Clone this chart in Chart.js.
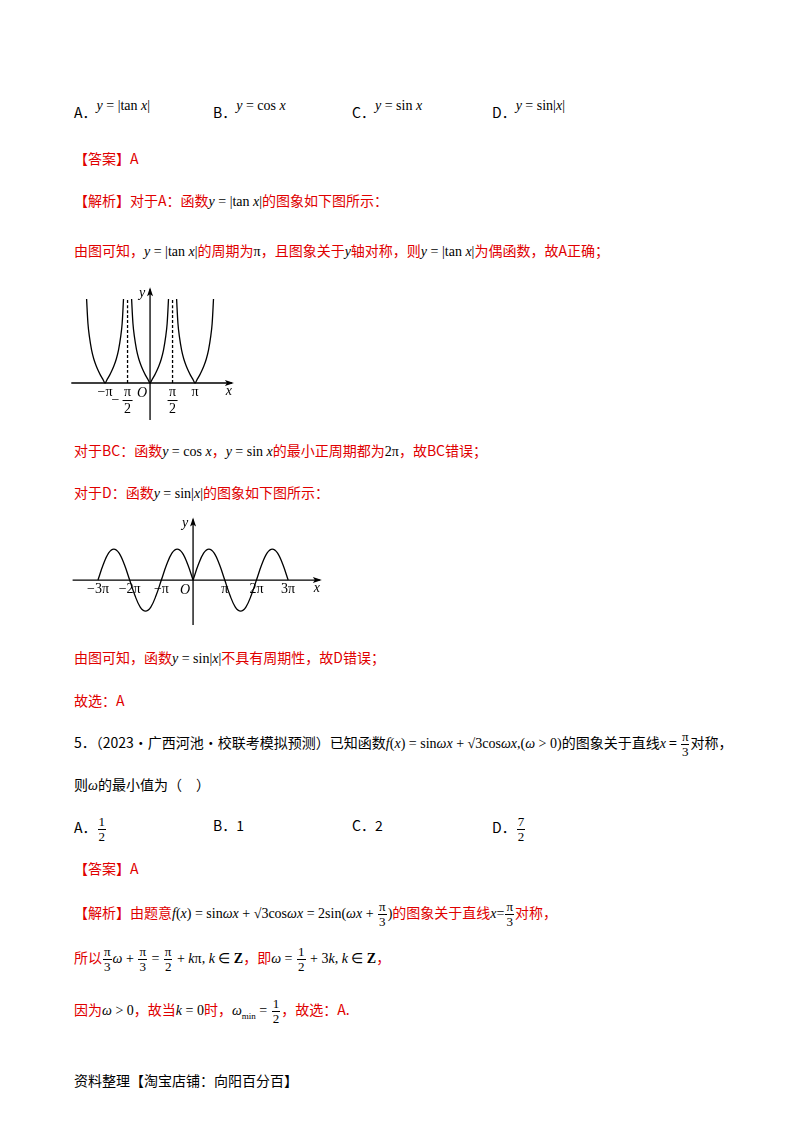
<!DOCTYPE html>
<html><head><meta charset="utf-8">
<script src="https://cdn.jsdelivr.net/npm/chart.js@4/dist/chart.umd.min.js"></script>
<style>
body{margin:0;width:800px;height:1132px;background:#fff;position:relative;font-family:"Noto Sans CJK SC","Noto Sans",sans-serif;font-size:14px;color:#000}
.l{position:absolute;white-space:nowrap;line-height:20px}
.r{color:#e00000}
.m{font-family:"Liberation Serif",serif;font-size:14px;color:#000}
.i{font-style:italic}
.fr{display:inline-flex;flex-direction:column;align-items:center;vertical-align:middle;font-family:"Liberation Serif",serif;font-size:13px;line-height:14px;color:#000;margin:0 1px}
.fr span:first-child{border-bottom:1px solid #000;padding:0 1px}
canvas{position:absolute}
</style></head><body>
<div class="l" style="left:74px;top:102px">A．<span class="m" style="position:relative;top:-8px"><i>y</i> = |tan <i>x</i>|</span></div>
<div class="l" style="left:213px;top:102px">B．<span class="m" style="position:relative;top:-8px"><i>y</i> = cos <i>x</i></span></div>
<div class="l" style="left:352px;top:102px">C．<span class="m" style="position:relative;top:-8px"><i>y</i> = sin <i>x</i></span></div>
<div class="l" style="left:492px;top:102px">D．<span class="m" style="position:relative;top:-8px"><i>y</i> = sin|<i>x</i>|</span></div>
<div class="l r" style="left:74px;top:148px">【答案】A</div>
<div class="l r" style="left:74px;top:190px">【解析】对于A：函数<span class="m"><i>y</i> = |tan <i>x</i>|</span>的图象如下图所示：</div>
<div class="l r" style="left:74px;top:240px">由图可知，<span class="m"><i>y</i> = |tan <i>x</i>|</span>的周期为<span class="m">π</span>，且图象关于<span class="m i">y</span>轴对称，则<span class="m"><i>y</i> = |tan <i>x</i>|</span>为偶函数，故A正确；</div>
<canvas id="c1" width="180" height="140" style="left:65px;top:280px"></canvas>
<div class="l r" style="left:74px;top:440px">对于BC：函数<span class="m"><i>y</i> = cos <i>x</i></span>，<span class="m"><i>y</i> = sin <i>x</i></span>的最小正周期都为<span class="m">2π</span>，故BC错误；</div>
<div class="l r" style="left:74px;top:482px">对于D：函数<span class="m"><i>y</i> = sin|<i>x</i>|</span>的图象如下图所示：</div>
<canvas id="c2" width="265" height="120" style="left:65px;top:510px"></canvas>
<div class="l r" style="left:74px;top:647px">由图可知，函数<span class="m"><i>y</i> = sin|<i>x</i>|</span>不具有周期性，故D错误；</div>
<div class="l r" style="left:74px;top:690px">故选：A</div>
<div class="l" style="left:74px;top:730px">5．（2023·广西河池·校联考模拟预测）已知函数<span class="m"><i>f</i>(<i>x</i>) = sin<i>ωx</i> + √3cos<i>ωx</i>,(<i>ω</i> &gt; 0)</span>的图象关于直线<span class="m i">x</span> = <span class="fr"><span>π</span><span>3</span></span>对称，</div>
<div class="l" style="left:74px;top:774px">则<span class="m i">ω</span>的最小值为（　）</div>
<div class="l" style="left:74px;top:815px">A．<span class="fr"><span>1</span><span>2</span></span></div>
<div class="l" style="left:213px;top:815px">B．1</div>
<div class="l" style="left:352px;top:815px">C．2</div>
<div class="l" style="left:492px;top:815px">D．<span class="fr"><span>7</span><span>2</span></span></div>
<div class="l r" style="left:74px;top:858px">【答案】A</div>
<div class="l r" style="left:74px;top:900px">【解析】由题意<span class="m"><i>f</i>(<i>x</i>) = sin<i>ωx</i> + √3cos<i>ωx</i> = 2sin(<i>ωx</i> + </span><span class="fr"><span>π</span><span>3</span></span><span class="m">)</span>的图象关于直线<span class="m i">x</span><span class="m">=</span><span class="fr"><span>π</span><span>3</span></span>对称，</div>
<div class="l r" style="left:74px;top:945px">所以<span class="fr"><span>π</span><span>3</span></span><span class="m"><i>ω</i> + </span><span class="fr"><span>π</span><span>3</span></span><span class="m"> = </span><span class="fr"><span>π</span><span>2</span></span><span class="m"> + <i>k</i>π, <i>k</i> ∈ <b>Z</b></span>，即<span class="m"><i>ω</i> = </span><span class="fr"><span>1</span><span>2</span></span><span class="m"> + 3<i>k</i>, <i>k</i> ∈ <b>Z</b></span>，</div>
<div class="l r" style="left:74px;top:997px">因为<span class="m"><i>ω</i> &gt; 0</span>，故当<span class="m"><i>k</i> = 0</span>时，<span class="m"><i>ω</i><sub style="font-size:9px">min</sub> = </span><span class="fr"><span>1</span><span>2</span></span>，故选：A.</div>
<div class="l" style="left:74px;top:1070px">资料整理【淘宝店铺：向阳百分百】</div>
<script>
// x values in units of pi
const tanLeftX = [-1.41, -1.38, -1.35, -1.3, -1.25, -1.2, -1.15, -1.1, -1.05, -1, -0.95, -0.9, -0.85, -0.8, -0.75, -0.7, -0.65, -0.62, -0.59];
const tanLeftY = [3.5, 2.48, 1.96, 1.38, 1.0, 0.73, 0.51, 0.32, 0.16, 0, 0.16, 0.32, 0.51, 0.73, 1.0, 1.38, 1.96, 2.48, 3.5];
const tanMidX = [-0.41, -0.38, -0.35, -0.3, -0.25, -0.2, -0.15, -0.1, -0.05, 0, 0.05, 0.1, 0.15, 0.2, 0.25, 0.3, 0.35, 0.38, 0.41];
const tanMidY = [3.5, 2.48, 1.96, 1.38, 1.0, 0.73, 0.51, 0.32, 0.16, 0, 0.16, 0.32, 0.51, 0.73, 1.0, 1.38, 1.96, 2.48, 3.5];
const tanRightX = [0.59, 0.62, 0.65, 0.7, 0.75, 0.8, 0.85, 0.9, 0.95, 1, 1.05, 1.1, 1.15, 1.2, 1.25, 1.3, 1.35, 1.38, 1.41];
const tanRightY = [3.5, 2.48, 1.96, 1.38, 1.0, 0.73, 0.51, 0.32, 0.16, 0, 0.16, 0.32, 0.51, 0.73, 1.0, 1.38, 1.96, 2.48, 3.5];
const tanTicks = [[-1, "−π"], [1, "π"]];
const tanFracTicks = [[-0.5, "−"], [0.5, ""]];

const sinLeftX = [-3, -2.833, -2.667, -2.5, -2.333, -2.167, -2, -1.833, -1.667, -1.5, -1.333, -1.167, -1, -0.833, -0.667, -0.5, -0.333, -0.167, 0];
const sinLeftY = [0, 0.5, 0.87, 1, 0.87, 0.5, 0, -0.5, -0.87, -1, -0.87, -0.5, 0, 0.5, 0.87, 1, 0.87, 0.5, 0];
const sinRightX = [0, 0.167, 0.333, 0.5, 0.667, 0.833, 1, 1.167, 1.333, 1.5, 1.667, 1.833, 2, 2.167, 2.333, 2.5, 2.667, 2.833, 3];
const sinRightY = [0, 0.5, 0.87, 1, 0.87, 0.5, 0, -0.5, -0.87, -1, -0.87, -0.5, 0, 0.5, 0.87, 1, 0.87, 0.5, 0];
const sinTicks = [[-3, "−3π"], [-2, "−2π"], [-1, "−π"], [1, "π"], [2, "2π"], [3, "3π"]];

function pts(xs, ys) { return xs.map((x, i) => ({x, y: ys[i]})); }
function line(data, dash) {
  return {data, borderColor: "#000", borderWidth: 1.3, pointRadius: 0, tension: 0.35, borderDash: dash || [], fill: false};
}

function axesPlugin(xFrom, xTo, yFrom, yTo, ticks, fracs) {
  return {
    id: "axes",
    afterDatasetsDraw(chart) {
      const ctx = chart.ctx, xs = chart.scales.x, ys = chart.scales.y;
      const ox = xs.getPixelForValue(0), oy = ys.getPixelForValue(0);
      const x1 = xs.getPixelForValue(xFrom), x2 = xs.getPixelForValue(xTo);
      const y1 = ys.getPixelForValue(yFrom), y2 = ys.getPixelForValue(yTo);
      ctx.save();
      ctx.strokeStyle = "#000"; ctx.fillStyle = "#000"; ctx.lineWidth = 1.3;
      ctx.beginPath(); ctx.moveTo(x1, oy); ctx.lineTo(x2, oy); ctx.moveTo(ox, y1); ctx.lineTo(ox, y2); ctx.stroke();
      ctx.beginPath(); ctx.moveTo(x2 + 2, oy); ctx.lineTo(x2 - 7, oy - 3); ctx.lineTo(x2 - 5, oy); ctx.lineTo(x2 - 7, oy + 3); ctx.fill();
      ctx.beginPath(); ctx.moveTo(ox, y2 - 2); ctx.lineTo(ox - 3, y2 + 7); ctx.lineTo(ox, y2 + 5); ctx.lineTo(ox + 3, y2 + 7); ctx.fill();
      ctx.font = "14px 'Liberation Serif'"; ctx.textAlign = "center"; ctx.textBaseline = "top";
      ticks.forEach(([v, t]) => ctx.fillText(t, xs.getPixelForValue(v), oy + 2));
      (fracs || []).forEach(([v, s]) => {
        const px = xs.getPixelForValue(v);
        ctx.fillText("π", px, oy + 2);
        ctx.fillRect(px - 5, oy + 17, 10, 1);
        ctx.fillText("2", px, oy + 19);
        if (s) ctx.fillText(s, px - 12, oy + 10);
      });
      ctx.font = "italic 14px 'Liberation Serif'";
      ctx.fillText("O", ox - 8, oy + 3);
      ctx.fillText("x", x2 - 3, oy + 1);
      ctx.fillText("y", ox - 8, y2 - 3);
      ctx.restore();
    }
  };
}

const base = (xmin, xmax, ymin, ymax) => ({
  responsive: false, animation: false, clip: false,
  layout: {padding: 0},
  plugins: {legend: {display: false}, tooltip: {enabled: false}},
  scales: {
    x: {type: "linear", min: xmin, max: xmax, display: false},
    y: {type: "linear", min: ymin, max: ymax, display: false}
  }
});

new Chart(document.getElementById("c1"), {
  type: "line",
  data: {datasets: [
    line(pts(tanLeftX, tanLeftY)), line(pts(tanMidX, tanMidY)), line(pts(tanRightX, tanRightY)),
    line([{x: -0.5, y: 0}, {x: -0.5, y: 3.5}], [3, 2]), line([{x: 0.5, y: 0}, {x: 0.5, y: 3.5}], [3, 2])
  ]},
  options: base(-1.89, 2.11, -1.54, 4.29),
  plugins: [axesPlugin(-1.75, 1.82, -1.54, 3.9, tanTicks, tanFracTicks)]
});

new Chart(document.getElementById("c2"), {
  type: "line",
  data: {datasets: [line(pts(sinLeftX, sinLeftY)), line(pts(sinRightX, sinRightY))]},
  options: base(-4.04, 4.32, -1.61, 2.26),
  plugins: [axesPlugin(-3.8, 4.0, -1.45, 1.95, sinTicks)]
});
</script>
</body></html>
